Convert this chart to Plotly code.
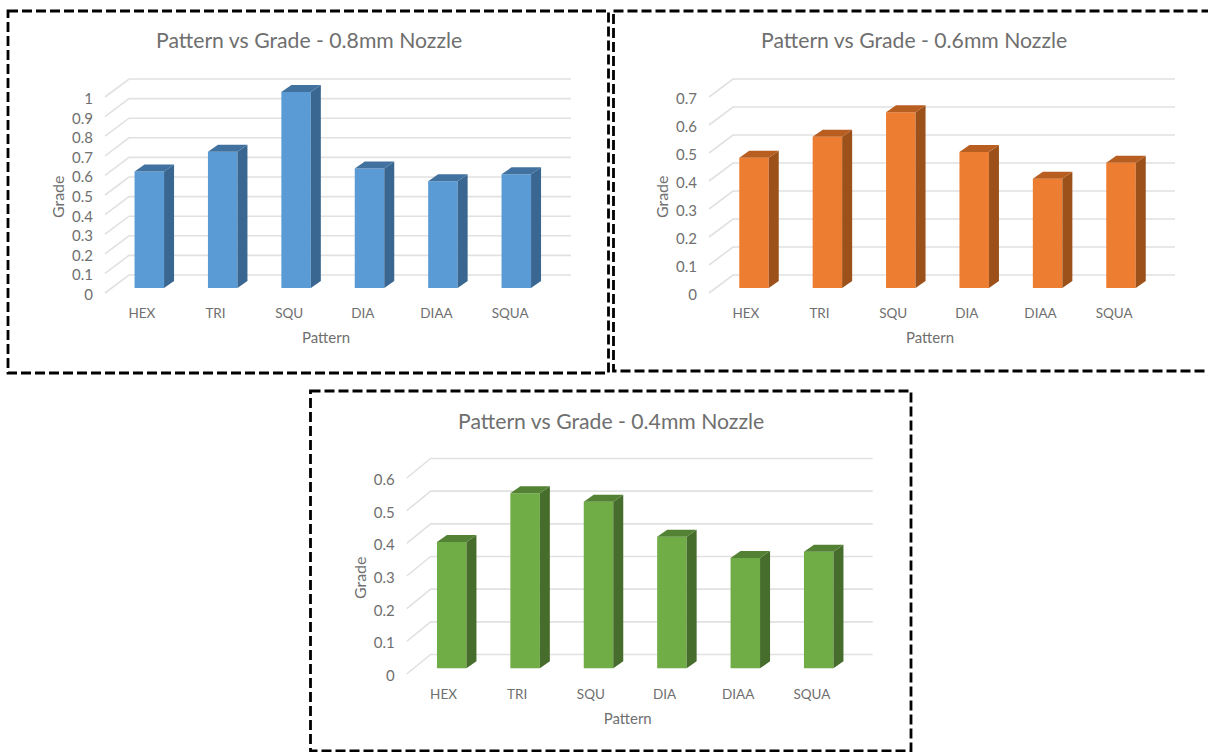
import plotly.graph_objects as go

# Infill pattern categories and the grade measured for each nozzle size
PATTERNS = ["HEX", "TRI", "SQU", "DIA", "DIAA", "SQUA"]
GRADE_08MM = [0.595, 0.695, 1.0, 0.61, 0.545, 0.58]
GRADE_06MM = [0.465, 0.54, 0.628, 0.486, 0.39, 0.447]
GRADE_04MM = [0.387, 0.536, 0.51, 0.403, 0.338, 0.357]
TICKS_08MM = [0, 0.1, 0.2, 0.3, 0.4, 0.5, 0.6, 0.7, 0.8, 0.9, 1]
TICKS_06MM = [0, 0.1, 0.2, 0.3, 0.4, 0.5, 0.6, 0.7]
TICKS_04MM = [0, 0.1, 0.2, 0.3, 0.4, 0.5, 0.6]

WIDTH, HEIGHT = 1208, 752
FONT = "Lato"
TEXT = "#6f6f6f"
GRID = "#e1e1e1"
SLOT = 73.67            # pixels per category along the floor of the chart
BAR_STEP = 73.4         # pixels between neighbouring columns
BAR_W = 29.5
BAR_DX, BAR_DY = 10, 7  # extruded depth of a column
WALL_DX = 24            # depth of the back wall
LABEL_DROP = 1.8        # tick labels sit this far below the grid ends

PANELS = [
    dict(title="Pattern vs Grade - 0.8mm Nozzle", values=GRADE_08MM, ticks=TICKS_08MM,
         color="#5b9bd5", side="#3a6791", top="#41729f",
         left=105, zero=293, top_px=97, base=288, first_bar=149.3, wall_dy=18,
         title_xy=(309, 40), frame=(8, 11, 608.5, 373)),
    dict(title="Pattern vs Grade - 0.6mm Nozzle", values=GRADE_06MM, ticks=TICKS_06MM,
         color="#ed7d31", side="#9b5119", top="#b85e21",
         left=709, zero=293, top_px=97, base=288, first_bar=754, wall_dy=18,
         title_xy=(914, 40), frame=(613.5, 11, 1212, 371)),
    dict(title="Pattern vs Grade - 0.4mm Nozzle", values=GRADE_04MM, ticks=TICKS_04MM,
         color="#70ad47", side="#466d2b", top="#548235",
         left=406.7, zero=674, top_px=478, base=668.3, first_bar=451.7, wall_dy=19.5,
         title_xy=(611, 421), frame=(310.5, 391, 911, 751)),
]


def fx(px):
    return px / WIDTH


def fy(px):
    return 1 - px / HEIGHT


fig = go.Figure()
layout = dict(
    template="none",
    width=WIDTH, height=HEIGHT, autosize=False,
    margin=dict(l=0, r=0, t=0, b=0),
    paper_bgcolor="white", plot_bgcolor="rgba(0,0,0,0)",
    showlegend=False, font=dict(family=FONT, color=TEXT, size=14),
)
annotations, shapes = [], []

for i, p in enumerate(PANELS):
    # Three axis pairs per chart: labels on the front plane, the grid, and the columns above it
    label_id, grid_id, bar_id = 3 * i + 1, 3 * i + 2, 3 * i + 3

    ticks = p["ticks"]
    ymax = ticks[-1]
    scale = (p["zero"] - p["top_px"]) / ymax
    left = p["left"]
    right = left + 6 * SLOT
    labels_x = list(range(len(PATTERNS)))

    layout[f"xaxis{label_id}"] = dict(
        domain=[fx(left), fx(right)], range=[-0.5, 5.5], anchor=f"y{label_id}",
        tickvals=labels_x, ticktext=PATTERNS, automargin=False,
        showgrid=False, zeroline=False, showline=False,
        ticks="outside", ticklen=6, tickcolor="rgba(0,0,0,0)",
        tickfont=dict(family=FONT, size=13.5, color=TEXT),
        title=dict(text="Pattern", standoff=12, font=dict(family=FONT, size=15, color=TEXT)),
        fixedrange=True,
    )
    layout[f"yaxis{label_id}"] = dict(
        domain=[fy(p["zero"] + LABEL_DROP), fy(p["top_px"] + LABEL_DROP)],
        range=[0, ymax], anchor=f"x{label_id}",
        tickvals=ticks, ticktext=[str(t) for t in ticks], automargin=False,
        showgrid=False, zeroline=False, showline=False,
        ticks="outside", ticklen=8, tickcolor="rgba(0,0,0,0)",
        tickfont=dict(family=FONT, size=15, color=TEXT),
        title=dict(text="Grade", standoff=3, font=dict(family=FONT, size=16, color=TEXT)),
        fixedrange=True,
    )
    fig.add_trace(go.Scatter(
        x=[labels_x[0]], y=[ticks[0]], mode="markers", marker=dict(opacity=0),
        xaxis=f"x{label_id}", yaxis=f"y{label_id}", hoverinfo="skip",
    ))

    # Shared data space for grid and columns: x in category index, y in grade on the column plane
    box_left, box_right = left - 3, right + WALL_DX + 3
    box_top, box_bottom = p["top_px"] - p["wall_dy"] - 10, p["zero"] + 3
    x_range = [(box_left - p["first_bar"]) / BAR_STEP, (box_right - p["first_bar"]) / BAR_STEP]
    y_range = [(p["base"] - box_bottom) / scale, (p["base"] - box_top) / scale]
    layout[f"xaxis{grid_id}"] = dict(
        domain=[fx(box_left), fx(box_right)], range=x_range,
        anchor=f"y{grid_id}", visible=False, fixedrange=True, automargin=False,
    )
    layout[f"yaxis{grid_id}"] = dict(
        domain=[fy(box_bottom), fy(box_top)], range=y_range,
        anchor=f"x{grid_id}", visible=False, fixedrange=True, automargin=False,
    )
    layout[f"xaxis{bar_id}"] = dict(
        range=x_range, overlaying=f"x{grid_id}", anchor=f"y{bar_id}",
        visible=False, fixedrange=True, automargin=False,
    )
    layout[f"yaxis{bar_id}"] = dict(
        range=y_range, overlaying=f"y{grid_id}", anchor=f"x{bar_id}",
        visible=False, fixedrange=True, automargin=False,
    )

    # Grid: a diagonal along the side wall, then a line across the back wall
    wall_near = (left - p["first_bar"]) / BAR_STEP
    wall_far = (left + WALL_DX - p["first_bar"]) / BAR_STEP
    grid_end = (right + WALL_DX - p["first_bar"]) / BAR_STEP
    near_shift = (p["zero"] - p["base"]) / scale
    far_shift = (p["wall_dy"] - (p["zero"] - p["base"])) / scale
    grid_x, grid_y = [], []
    for t in ticks:
        grid_x += [wall_near, wall_far, grid_end, None]
        grid_y += [t - near_shift, t + far_shift, t + far_shift, None]
    fig.add_trace(go.Scatter(
        x=grid_x, y=grid_y, mode="lines", xaxis=f"x{grid_id}", yaxis=f"y{grid_id}",
        line=dict(color=GRID, width=1.6), hoverinfo="skip",
    ))

    # Columns: front face as bars, side and top faces extruded from the same values
    half = BAR_W / BAR_STEP / 2
    dx = BAR_DX / BAR_STEP
    dy = BAR_DY / scale
    fig.add_trace(go.Bar(
        x=labels_x, y=p["values"], width=2 * half, xaxis=f"x{bar_id}", yaxis=f"y{bar_id}",
        marker=dict(color=p["color"], line=dict(width=0)),
        customdata=PATTERNS, hovertemplate="%{customdata}: %{y}<extra></extra>",
    ))
    for k, v in zip(labels_x, p["values"]):
        xl, xr = k - half, k + half
        fig.add_trace(go.Scatter(
            x=[xr, xr + dx, xr + dx, xr, xr], y=[0, dy, v + dy, v, 0],
            mode="lines", fill="toself", fillcolor=p["side"], line=dict(width=0),
            xaxis=f"x{bar_id}", yaxis=f"y{bar_id}", hoverinfo="skip",
        ))
        fig.add_trace(go.Scatter(
            x=[xl, xl + dx, xr + dx, xr, xl], y=[v, v + dy, v + dy, v, v],
            mode="lines", fill="toself", fillcolor=p["top"], line=dict(width=0),
            xaxis=f"x{bar_id}", yaxis=f"y{bar_id}", hoverinfo="skip",
        ))

    annotations.append(dict(
        text=p["title"], xref="paper", yref="paper",
        x=fx(p["title_xy"][0]), y=fy(p["title_xy"][1]),
        xanchor="center", yanchor="middle", showarrow=False,
        font=dict(family=FONT, size=21.2, color=TEXT),
    ))
    x0, y0, x1, y1 = p["frame"]
    shapes.append(dict(
        type="rect", xref="paper", yref="paper",
        x0=fx(x0), x1=fx(x1), y0=fy(y0), y1=fy(y1),
        line=dict(color="black", width=2.8, dash="10px,4px"),
    ))

layout["annotations"] = annotations
layout["shapes"] = shapes
fig.update_layout(**layout)
fig.write_html("out.html")
